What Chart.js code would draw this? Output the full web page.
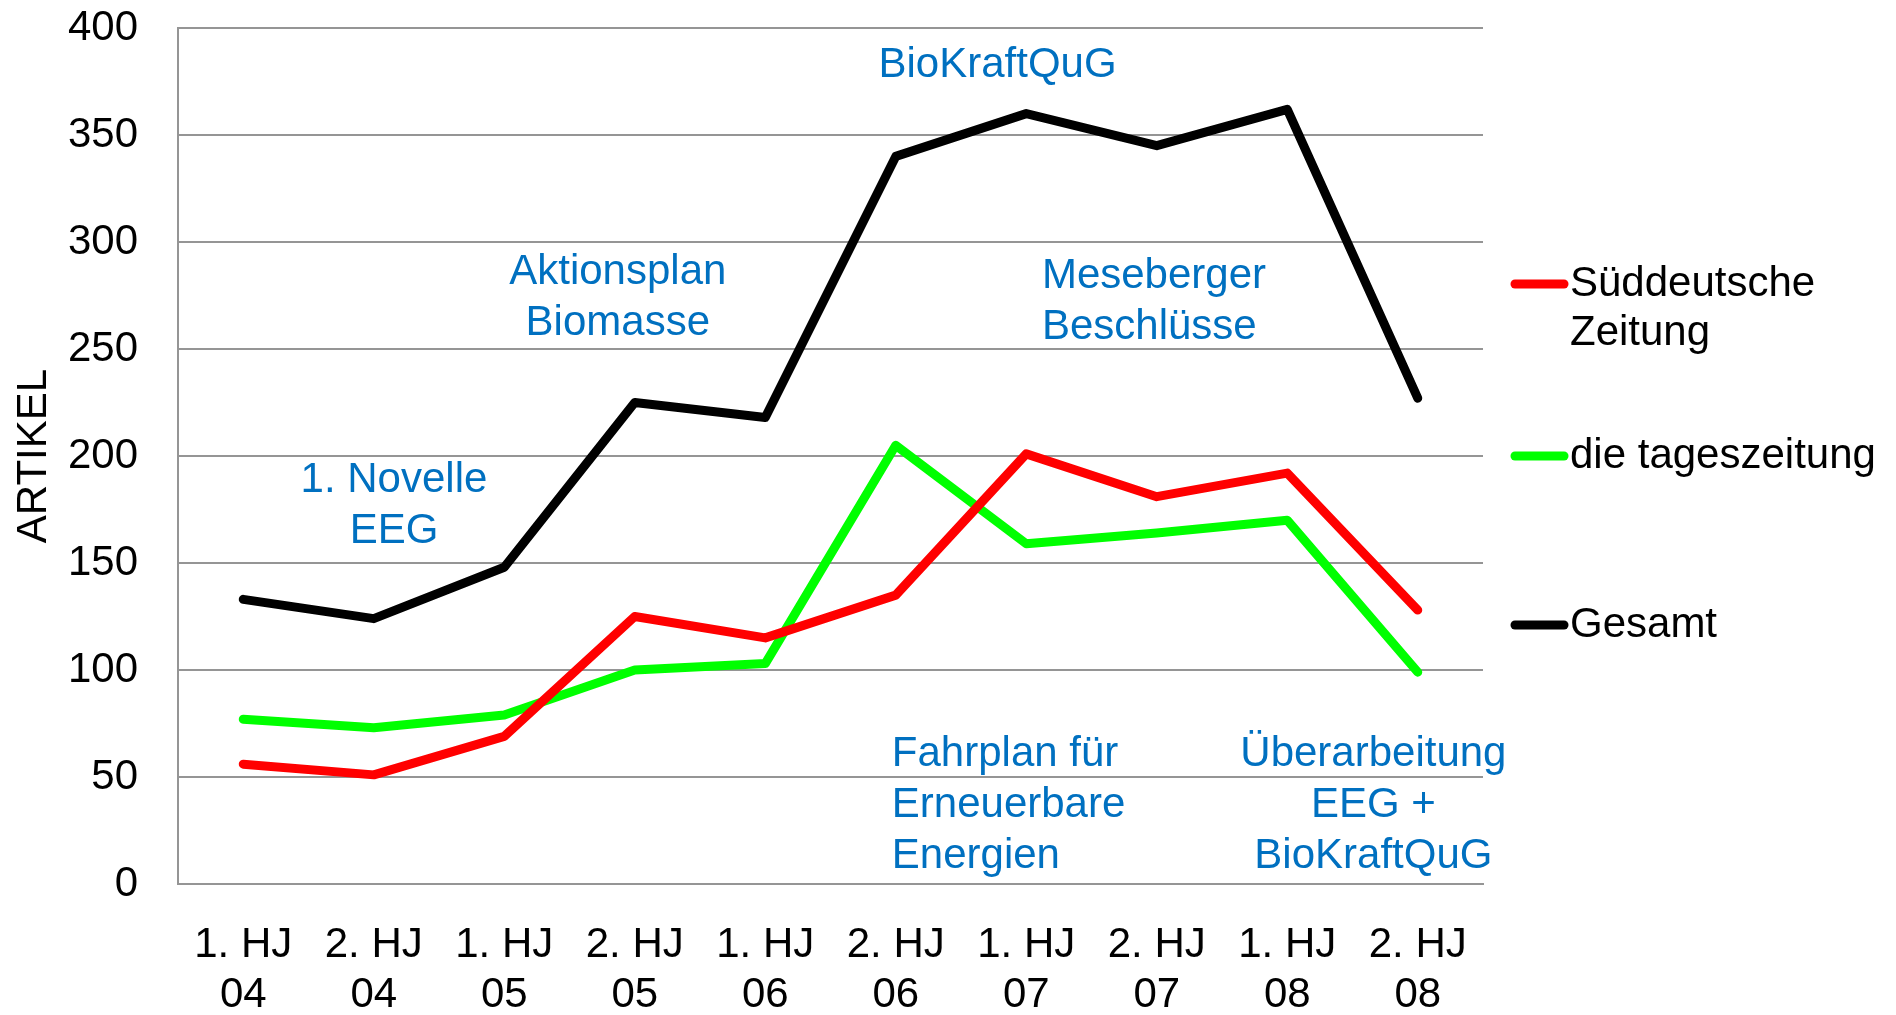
<!DOCTYPE html>
<html>
<head>
<meta charset="utf-8">
<title>Artikel pro Halbjahr</title>
<script src="https://cdn.jsdelivr.net/npm/chart.js@4.4.0/dist/chart.umd.min.js"></script>
<style>
  html, body { margin: 0; padding: 0; background: #fff; }
  #wrap { width: 1896px; height: 1015px; position: relative; }
</style>
</head>
<body>
<div id="wrap"><canvas id="artikelChart"></canvas></div>
<script>
// data
const halbjahre = [
  ['1. HJ', '04'], ['2. HJ', '04'], ['1. HJ', '05'], ['2. HJ', '05'], ['1. HJ', '06'],
  ['2. HJ', '06'], ['1. HJ', '07'], ['2. HJ', '07'], ['1. HJ', '08'], ['2. HJ', '08']
];
const sueddeutsche = [56, 51, 69, 125, 115, 135, 201, 181, 192, 128];
const tageszeitung = [77, 73, 79, 100, 103, 205, 159, 164, 170, 99];
const gesamt = [133, 124, 148, 225, 218, 340, 360, 345, 362, 227];
const yMin = 0;
const yMax = 400;
const yStep = 50;

// events written into the plot (x = category index, y = value of first line)
const ereignisse = [
  { lines: ['1. Novelle', 'EEG'], x: 1.155, y: 188.5, align: 'center' },
  { lines: ['Aktionsplan', 'Biomasse'], x: 2.87, y: 286, align: 'center' },
  { lines: ['BioKraftQuG'], x: 5.78, y: 382.7, align: 'center' },
  { lines: ['Meseberger', 'Beschlüsse'], x: 6.12, y: 283.8, align: 'left' },
  { lines: ['Fahrplan für', 'Erneuerbare', 'Energien'], x: 4.97, y: 60.4, align: 'left' },
  { lines: ['Überarbeitung', 'EEG +', 'BioKraftQuG'], x: 8.66, y: 60.4, align: 'center' }
];

const FONT = '"Liberation Sans", Arial, sans-serif';
const GRID = '#959595';

// blue annotation texts
const ereignisPlugin = {
  id: 'ereignisse',
  afterDatasetsDraw(chart) {
    const ctx = chart.ctx;
    const xs = chart.scales.x, ys = chart.scales.y;
    ctx.save();
    ctx.fillStyle = '#0070c0';
    ctx.font = '42px ' + FONT;
    ctx.textBaseline = 'middle';
    ereignisse.forEach(e => {
      const px = xs.getPixelForValue(e.x);
      const py = ys.getPixelForValue(e.y);
      ctx.textAlign = e.align;
      e.lines.forEach((t, i) => ctx.fillText(t, px, py + i * 51));
    });
    ctx.restore();
  }
};

// legend on the right, like the original
const legendePlugin = {
  id: 'legende',
  afterDraw(chart) {
    const ctx = chart.ctx;
    const rows = [284, 456, 625];
    ctx.save();
    ctx.font = '42px ' + FONT;
    ctx.textBaseline = 'middle';
    ctx.textAlign = 'left';
    chart.data.datasets.forEach((ds, i) => {
      const y = rows[i];
      ctx.strokeStyle = ds.borderColor;
      ctx.lineWidth = 9;
      ctx.lineCap = 'round';
      ctx.beginPath();
      ctx.moveTo(1515, y);
      ctx.lineTo(1564, y);
      ctx.stroke();
      ctx.fillStyle = '#000';
      const parts = Array.isArray(ds.label) ? ds.label : [ds.label];
      parts.forEach((t, j) => ctx.fillText(t, 1570, y + j * 49));
    });
    ctx.restore();
  }
};

const ctx = document.getElementById('artikelChart').getContext('2d');
new Chart(ctx, {
  type: 'line',
  data: {
    labels: halbjahre,
    datasets: [
      { label: ['Süddeutsche', 'Zeitung'], data: sueddeutsche, borderColor: '#ff0000' },
      { label: 'die tageszeitung', data: tageszeitung, borderColor: '#00ff00' },
      { label: 'Gesamt', data: gesamt, borderColor: '#000000' }
    ]
  },
  options: {
    responsive: true,
    maintainAspectRatio: false,
    animation: false,
    layout: { padding: { top: 28, right: 413, left: 0, bottom: 0 } },
    elements: {
      line: { borderWidth: 9, tension: 0, borderCapStyle: 'round', borderJoinStyle: 'round', fill: false },
      point: { radius: 0, hoverRadius: 0 }
    },
    plugins: {
      legend: { display: false },
      tooltip: { enabled: false }
    },
    scales: {
      x: {
        type: 'category',
        offset: true,
        grid: { display: false, drawTicks: false },
        border: { display: true, color: GRID, width: 2 },
        ticks: { color: '#000', font: { family: FONT, size: 42, lineHeight: 1.2 }, padding: 36, maxRotation: 0, autoSkip: false },
        afterFit(scale) { scale.height = 131; }
      },
      y: {
        min: yMin,
        max: yMax,
        grid: { color: GRID, lineWidth: 2, drawTicks: false },
        border: { display: true, color: GRID, width: 2 },
        ticks: { stepSize: yStep, color: '#000', font: { family: FONT, size: 42 }, padding: 40 },
        title: { display: true, text: 'ARTIKEL', color: '#000', font: { family: FONT, size: 42, lineHeight: 1.2 }, padding: { top: 9, bottom: 0 } },
        afterFit(scale) {
          scale.width = 178;
          // tick padding would otherwise push the plot top down
          scale.paddingTop = 0;
          scale.paddingBottom = 0;
        }
      }
    }
  },
  plugins: [ereignisPlugin, legendePlugin]
});
</script>
</body>
</html>
